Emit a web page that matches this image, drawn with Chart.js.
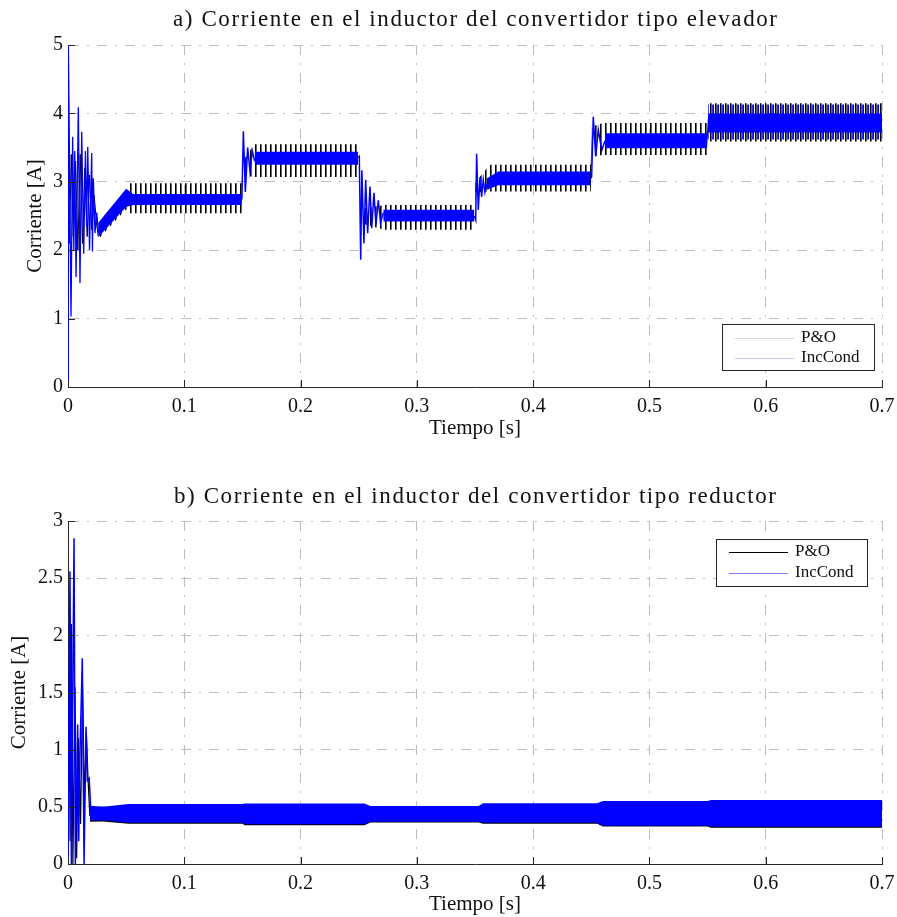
<!DOCTYPE html>
<html>
<head>
<meta charset="utf-8">
<script src="https://cdn.jsdelivr.net/npm/chart.js@4"></script>
<style>
  body { margin: 0; background: #fff; }
  .box { position: absolute; left: 0; width: 897px; }
</style>
</head>
<body>
<div class="box" style="top:0;height:458px"><canvas id="chartA"></canvas></div>
<div class="box" style="top:458px;height:459px"><canvas id="chartB"></canvas></div>
<script>
// ---------- shared ----------
const seriesNames = ["P&O", "IncCond"];
const xTickValues = [0, 0.1, 0.2, 0.3, 0.4, 0.5, 0.6, 0.7];
const xTickLabels = ["0", "0.1", "0.2", "0.3", "0.4", "0.5", "0.6", "0.7"];

// ---------- a) boost converter ----------
const yTickValuesA = [0, 1, 2, 3, 4, 5];
const yTickLabelsA = ["0", "1", "2", "3", "4", "5"];

const poStartT_A = [0, 0.0002, 0.0012, 0.0028, 0.0045, 0.0065, 0.0085, 0.0105, 0.0125, 0.0145, 0.0165, 0.0185, 0.0205, 0.0225, 0.0245, 0.026];
const poStartV_A = [0, 5.0, 2.1, 3.4, 2.2, 3.3, 2.0, 3.4, 2.1, 3.2, 2.2, 3.1, 2.3, 2.8, 2.4, 2.2];

const poBandT_A = [0.026, 0.050, 0.053, 0.1495, 0.1505, 0.160, 0.2495, 0.2505, 0.272, 0.3495, 0.3505, 0.363, 0.4495, 0.4505, 0.46, 0.5495, 0.5505, 0.70];
const poBandHi_A = [2.36, 2.88, 2.98, 2.98, 3.30, 3.55, 3.55, 2.60, 2.66, 2.66, 3.00, 3.25, 3.25, 3.81, 3.86, 3.86, 4.15, 4.15];
const poBandLo_A = [2.16, 2.60, 2.54, 2.54, 3.10, 3.07, 3.07, 2.40, 2.30, 2.30, 2.85, 2.86, 2.86, 3.37, 3.39, 3.39, 3.59, 3.59];

const incStartT_A = [0, 0.0003, 0.0026, 0.0040, 0.0050, 0.0058, 0.0069, 0.0089, 0.0103, 0.0118, 0.0135, 0.0150, 0.0160, 0.0170, 0.0185, 0.0204, 0.0210, 0.0218, 0.0232, 0.0247, 0.0262];
const incStartV_A = [0, 5.0, 1.03, 3.66, 2.0, 3.45, 1.61, 4.09, 1.52, 3.73, 1.95, 3.45, 2.35, 3.51, 2.0, 3.42, 1.98, 3.05, 2.25, 2.55, 2.25];

const incBandT_A = [0.026, 0.050, 0.056, 0.1495, 0.1495, 0.1605, 0.2495, 0.2495, 0.2711, 0.3495, 0.3495, 0.360, 0.370, 0.4495, 0.4495, 0.4618, 0.5495, 0.5505, 0.70];
const incBandHi_A = [2.40, 2.90, 2.82, 2.82, null, 3.44, 3.44, null, 2.59, 2.59, null, 3.05, 3.15, 3.15, null, 3.71, 3.71, 4.00, 4.00];
const incBandLo_A = [2.19, 2.63, 2.66, 2.66, null, 3.25, 3.25, null, 2.42, 2.42, null, 2.88, 2.95, 2.95, null, 3.49, 3.49, 3.72, 3.72];

// IncCond ripple in the last step
const incRippleT_A = [0.5505, 0.70];
const incRippleHi_A = [4.13, 4.13];
const incRippleLo_A = [3.62, 3.62];

// IncCond transients after each irradiance step
const incStepT_A = [0.1495, 0.1508, 0.1525, 0.1545, 0.1565, 0.1585, 0.1605, 0.1605,
  0.2495, 0.2505, 0.2517, 0.2527, 0.2545, 0.2560, 0.2577, 0.2597, 0.2612, 0.2631, 0.2648, 0.2668, 0.2688, 0.2711, 0.2711,
  0.3495, 0.3506, 0.3514, 0.3528, 0.3543, 0.3557, 0.3571, 0.3585, 0.3600, 0.3600,
  0.4495, 0.4503, 0.4517, 0.4538, 0.4560, 0.4590, 0.4618];
const incStepV_A = [2.74, 3.74, 2.85, 3.50, 3.15, 3.45, 3.30, null,
  3.35, 3.37, 1.86, 3.17, 2.10, 3.03, 2.25, 2.93, 2.32, 2.84, 2.37, 2.73, 2.40, 2.55, null,
  2.50, 2.44, 3.41, 2.59, 3.07, 2.78, 3.03, 2.85, 2.97, null,
  3.05, 3.07, 3.95, 3.37, 3.76, 3.46, 3.60];

// ---------- b) buck converter ----------
const yTickValuesB = [0, 0.5, 1, 1.5, 2, 2.5, 3];
const yTickLabelsB = ["0", "0.5", "1", "1.5", "2", "2.5", "3"];

const poStartT_B = [0, 0.0009, 0.0018, 0.0030, 0.0042, 0.0060, 0.0074, 0.0090, 0.0108, 0.0125, 0.0142, 0.0158, 0.0172, 0.0188];
const poStartV_B = [0, 1.66, 0.2, 2.10, 0.0, 1.55, 0.05, 1.1, 0.35, 1.55, 0.55, 1.15, 0.75, 0.42];

const incStartT_B = [0, 0.0017, 0.0029, 0.0052, 0.0063, 0.0083, 0.0092, 0.0103, 0.0123, 0.0138, 0.0155, 0.0166, 0.0182, 0.0195];
const incStartV_B = [0, 2.56, 0.0, 2.85, 0.0, 1.22, 0.2, 0.97, 1.80, 0.0, 1.20, 0.73, 0.75, 0.49];

const bandT_B = [0.0188, 0.030, 0.052, 0.150, 0.152, 0.255, 0.260, 0.353, 0.357, 0.455, 0.460, 0.550, 0.553, 0.70];
const poBandHi_B = [0.42, 0.49, 0.51, 0.51, 0.52, 0.52, 0.50, 0.50, 0.52, 0.52, 0.54, 0.54, 0.55, 0.55];
const poBandLo_B = [0.37, 0.372, 0.352, 0.352, 0.34, 0.34, 0.362, 0.362, 0.353, 0.353, 0.327, 0.327, 0.318, 0.318];
const incBandHi_B = [0.51, 0.50, 0.525, 0.525, 0.53, 0.53, 0.507, 0.507, 0.531, 0.531, 0.551, 0.551, 0.56, 0.56];
const incBandLo_B = [0.38, 0.38, 0.36, 0.36, 0.347, 0.347, 0.37, 0.37, 0.361, 0.361, 0.335, 0.335, 0.326, 0.326];

// ---------- helpers ----------
const FONT = '"Liberation Serif", "Times New Roman", serif';
Chart.defaults.font.family = FONT;
Chart.defaults.color = "#111";

const pts = (ts, vs) => ts.map((t, i) => ({ x: t, y: vs[i] }));

function stripes(color, period, width, offset) {
  const c = document.createElement("canvas");
  c.width = period; c.height = 2;
  const g = c.getContext("2d");
  g.fillStyle = color;
  g.fillRect(offset, 0, width, 2);
  return g.createPattern(c, "repeat");
}

function line(ts, vs, color, width, order) {
  return { data: pts(ts, vs), borderColor: color, borderWidth: width, fill: false, order: order, spanGaps: false };
}

function addBand(list, ts, hi, lo, bg, order) {
  list.push({ data: pts(ts, hi), borderColor: "rgba(0,0,0,0)", borderWidth: 1, fill: false, order: order, spanGaps: false });
  list.push({ data: pts(ts, lo), borderColor: "rgba(0,0,0,0)", borderWidth: 1, fill: "-1", backgroundColor: bg, order: order, spanGaps: false });
}

// titles, legend box and inward ticks drawn like the original figure
const decor = {
  id: "decor",
  afterDraw(chart, args, o) {
    const { ctx, chartArea: a, scales: { x, y } } = chart;
    ctx.save();
    ctx.strokeStyle = "#262626";
    ctx.lineWidth = 1;
    ctx.beginPath();
    x.ticks.forEach(t => {
      const px = Math.round(x.getPixelForValue(t.value)) + 0.5;
      ctx.moveTo(px, a.bottom); ctx.lineTo(px, a.bottom - 7);
    });
    y.ticks.forEach(t => {
      const py = Math.round(y.getPixelForValue(t.value)) + 0.5;
      ctx.moveTo(a.left, py); ctx.lineTo(a.left + 7, py);
    });
    ctx.stroke();

    // title
    ctx.fillStyle = "#111";
    ctx.font = "23px " + FONT;
    ctx.textAlign = "center";
    ctx.textBaseline = "middle";
    const w0 = ctx.measureText(o.title).width;
    const sp = Math.max(0, (o.titleWidth - w0) / (o.title.length - 1));
    ctx.letterSpacing = sp + "px";
    ctx.fillText(o.title, (a.left + a.right) / 2 + sp / 2, o.titleY);
    ctx.letterSpacing = "0px";

    // legend
    const L = o.legend;
    ctx.fillStyle = "#fff";
    ctx.fillRect(L.x, L.y, L.w, L.h);
    ctx.strokeStyle = "#262626";
    ctx.strokeRect(L.x + 0.5, L.y + 0.5, L.w, L.h);
    ctx.font = "17px " + FONT;
    ctx.textAlign = "left";
    seriesNames.forEach((name, i) => {
      const ry = L.y + L.row0 + i * L.dy;
      ctx.strokeStyle = L.colors[i];
      ctx.beginPath();
      ctx.moveTo(L.x + L.l0, ry + 0.5); ctx.lineTo(L.x + L.l1, ry + 0.5);
      ctx.stroke();
      ctx.fillStyle = "#111";
      ctx.fillText(name, L.x + L.tx, ry);
    });
    ctx.restore();
  }
};

function options(cfg) {
  const borderStyle = { display: true, color: "#262626", width: 1, dash: [10, 8, 2, 8] };
  return {
    responsive: true,
    maintainAspectRatio: false,
    animation: false,
    events: [],
    layout: { padding: { top: cfg.padTop, right: 15, left: 0, bottom: 0 } },
    elements: { point: { radius: 0 }, line: { tension: 0 } },
    plugins: {
      legend: { display: false },
      tooltip: { enabled: false },
      decor: cfg.decor
    },
    scales: {
      x: {
        type: "linear", min: 0, max: 0.7,
        afterBuildTicks: s => { s.ticks = xTickValues.map(v => ({ value: v })); },
        afterFit: s => { s.height = cfg.xHeight; },
        ticks: { callback: (v, i) => xTickLabels[i], font: { size: 20 }, padding: 2, maxRotation: 0, autoSkip: false },
        grid: { color: "#bdbdbd", lineWidth: 1, drawTicks: true, tickLength: 6, tickColor: "rgba(0,0,0,0)" },
        border: borderStyle,
        title: { display: true, text: "Tiempo [s]", font: { size: 21 }, padding: { top: 0, bottom: cfg.xTitlePad } }
      },
      y: {
        type: "linear", min: 0, max: cfg.yMax,
        afterBuildTicks: s => { s.ticks = cfg.yValues.map(v => ({ value: v })); },
        afterFit: s => { s.width = 68; },
        ticks: { callback: (v, i) => cfg.yLabels[i], font: { size: 20 }, padding: 5, autoSkip: false },
        grid: { color: "#bdbdbd", lineWidth: 1, drawTicks: false },
        border: borderStyle,
        title: { display: true, text: "Corriente [A]", font: { size: 21 }, padding: { top: cfg.yTitlePad, bottom: 0 } }
      }
    }
  };
}

// ---------- chart a ----------
const blackTeeth = stripes("#000", 5, 1.6, 0);
const blueTeeth = stripes("#0000ff", 5, 1.8, 2.2);

const dsA = [];
addBand(dsA, poBandT_A, poBandHi_A, poBandLo_A, blackTeeth, 6);
dsA.push(line(poStartT_A, poStartV_A, "#000", 1, 5));
addBand(dsA, incRippleT_A, incRippleHi_A, incRippleLo_A, blueTeeth, 4);
addBand(dsA, incBandT_A, incBandHi_A, incBandLo_A, "#0000ff", 3);
dsA.push(line(incStartT_A, incStartV_A, "#0000ff", 1.3, 2));
dsA.push(line(incStepT_A, incStepV_A, "#0000ff", 1.5, 1));

new Chart(document.getElementById("chartA"), {
  type: "line",
  data: { datasets: dsA },
  options: options({
    padTop: 45, xHeight: 71, xTitlePad: 17, yTitlePad: 23, yMax: 5,
    yValues: yTickValuesA, yLabels: yTickLabelsA,
    decor: {
      title: "a) Corriente en el inductor del convertidor tipo elevador",
      titleY: 20, titleWidth: 604,
      legend: { x: 722, y: 324, w: 152, h: 46, row0: 14, dy: 20, l0: 13, l1: 72, tx: 79, colors: ["#d9d9d9", "#c8c8ff"] }
    }
  }),
  plugins: [decor]
});

// ---------- chart b ----------
const dsB = [];
addBand(dsB, bandT_B, poBandHi_B, poBandLo_B, "#000", 6);
dsB.push(line(poStartT_B, poStartV_B, "#000", 1.2, 5));
addBand(dsB, bandT_B, incBandHi_B, incBandLo_B, "#0000ff", 3);
dsB.push(line(incStartT_B, incStartV_B, "#0000ff", 1.5, 2));

new Chart(document.getElementById("chartB"), {
  type: "line",
  data: { datasets: dsB },
  options: options({
    padTop: 63, xHeight: 53, xTitlePad: 0, yTitlePad: 7, yMax: 3,
    yValues: yTickValuesB, yLabels: yTickLabelsB,
    decor: {
      title: "b) Corriente en el inductor del convertidor tipo reductor",
      titleY: 39, titleWidth: 602,
      legend: { x: 716, y: 81, w: 151, h: 47, row0: 13, dy: 21, l0: 13, l1: 72, tx: 79, colors: ["#000", "#7f7fff"] }
    }
  }),
  plugins: [decor]
});
</script>
</body>
</html>
